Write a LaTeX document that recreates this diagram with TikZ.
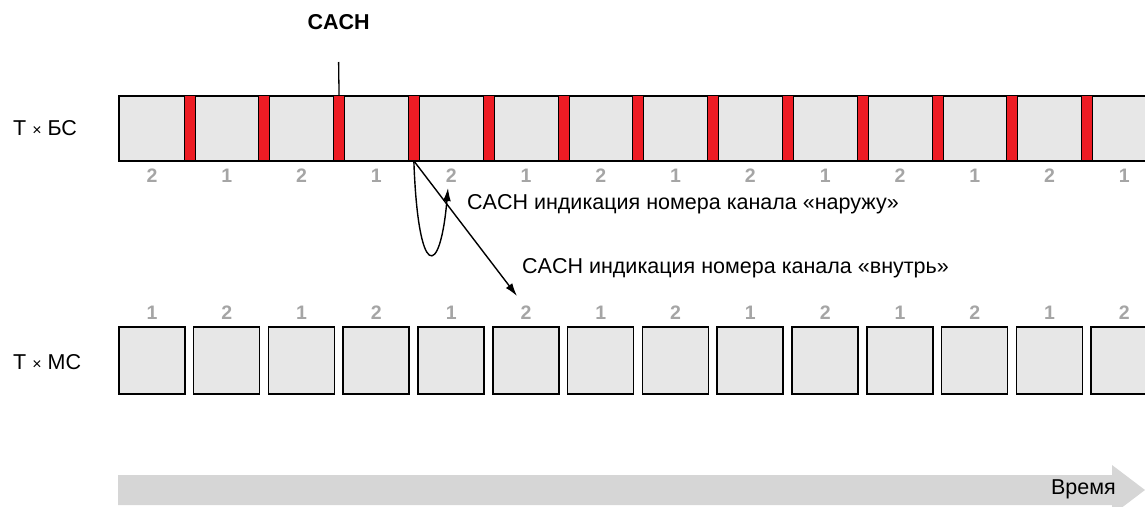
\documentclass[tikz,border=0pt]{standalone}
\usepackage{fontspec}
\setmainfont{Liberation Sans}
\usetikzlibrary{arrows.meta}
\definecolor{cellfill}{RGB}{231,231,231}
\definecolor{stripered}{RGB}{237,28,36}
\definecolor{numgrey}{RGB}{165,165,165}
\definecolor{bandgrey}{RGB}{214,214,214}
\begin{document}
\begin{tikzpicture}[x=1pt,y=-1pt,
  txt/.style={font=\fontsize{21.5}{25}\selectfont, inner sep=0pt},
  num/.style={font=\fontsize{19.5}{22}\selectfont\bfseries, text=numgrey, inner sep=0pt},
  bar/.style={draw=black, line width=1.5pt, fill=cellfill, inner sep=0pt, anchor=north west},
  stripe/.style={draw=black, line width=0.9pt, fill=stripered, inner sep=0pt, minimum width=11pt, minimum height=65pt, anchor=north west},
  cell/.style={draw=black, line width=1.5pt, fill=cellfill, inner sep=0pt, minimum width=66pt, minimum height=67pt, anchor=north west},
  conn/.style={line width=1.4pt, -{Latex[length=13pt,width=8pt]}}]
\useasboundingbox (0,0) rectangle (1145,506);
\clip (0,0) rectangle (1145,506);
% labels
\node[txt, anchor=west] (tbs) at (13,128) {T {\fontsize{16}{20}\selectfont ×} БС};
\node[txt, anchor=west] (tms) at (13,362) {T {\fontsize{16}{20}\selectfont ×} МС};
% top bar
\node[bar, minimum width=1060pt, minimum height=65pt] (topbar) at (118,95) {};
\foreach \i in {0,...,12}
  \node[stripe] (s\i) at ({183.5+74.8*\i},95) {};
\foreach \i/\t in {0/2,1/1,2/2,3/1,4/2,5/1,6/2,7/1,8/2,9/1,10/2,11/1,12/2,13/1}
  \node[num] (lt\i) at ({152+74.8*\i},176) {\t};
% bottom boxes
\foreach \i in {0,...,13}
  \node[cell] (b\i) at ({118+74.8*\i},326) {};
\foreach \i/\t in {0/1,1/2,2/1,3/2,4/1,5/2,6/1,7/2,8/1,9/2,10/1,11/2,12/1,13/2}
  \node[num] (lb\i) at ({152+74.8*\i},313) {\t};
% CACH label
\node[txt, font=\fontsize{21.5}{25}\selectfont\bfseries] (cach) at (338.6,22) {CACH};
\coordinate (ctop) at (338.6,62);
\draw[line width=1.3pt] (ctop) -- (s2.north);
% arrows
\coordinate (outtip) at (448,188);
\coordinate (intip) at (517,296);
\draw[conn] (s3.south) .. controls (418,280) and (440,280) .. (outtip);
\draw[conn] (s3.south) -- (intip);
\node[txt, anchor=west] (tout) at (467,204) {CACH индикация номера канала «наружу»};
\node[txt, anchor=west] (tin) at (522,268) {CACH индикация номера канала «внутрь»};
% time arrow
\fill[bandgrey] (118,475) -- (1112,475) -- (1112,465) -- (1145,490) -- (1112,515) -- (1112,505) -- (118,505) -- cycle;
\node[txt, anchor=east] (time) at (1116,489) {Время};
\end{tikzpicture}
\end{document}
